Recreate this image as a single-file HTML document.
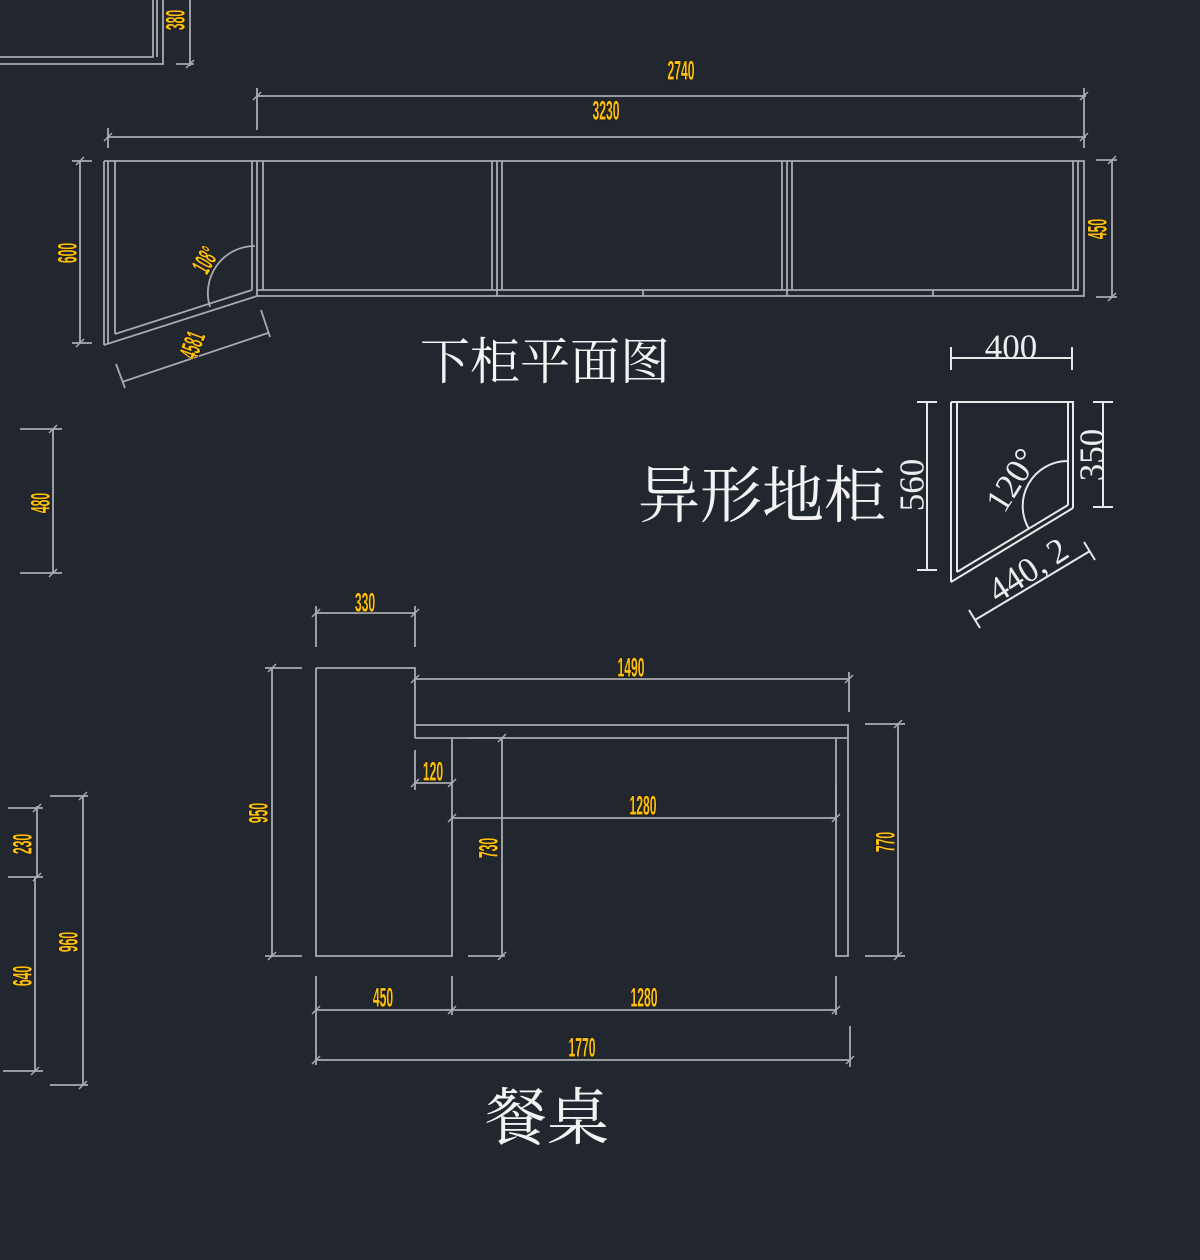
<!DOCTYPE html>
<html>
<head>
<meta charset="utf-8">
<style>
html,body{margin:0;padding:0;background:#21262f;}
svg{display:block;}
.y{font-family:"Liberation Sans",sans-serif;font-weight:bold;font-size:27px;fill:#fcbf12;stroke:#140f00;stroke-width:1.4px;paint-order:stroke;text-anchor:middle;}
.w{font-family:"Liberation Serif",serif;font-size:35px;fill:#ececec;text-anchor:middle;}
.t{font-family:"Liberation Serif","Noto Serif CJK SC",serif;fill:#f3f3f3;text-anchor:middle;}
</style>
</head>
<body>
<svg width="1200" height="1260" viewBox="0 0 1200 1260" xmlns="http://www.w3.org/2000/svg">
<rect width="1200" height="1260" fill="#21262f"/>

<!-- gray CAD lines -->
<g stroke="#a9abae" stroke-width="1.8" fill="none">
  <!-- top-left partial box -->
  <path d="M0 57H153V0 M0 64H163V0 M157 0V57"/>
  <path d="M190 0V66 M176 64H194"/>
  <!-- 2740 / 3230 -->
  <path d="M257 96H1086 M257 88V130 M1084 88V148"/>
  <path d="M108 137H1086 M108 128V148"/>
  <!-- cabinet -->
  <path d="M104 161H1084V296H257 M257 290H1078V161 M1073 161V290"/>
  <path d="M492 161V290 M497 161V296 M502 161V290 M782 161V290 M787 161V296 M792 161V290"/>
  <path d="M252 161V290 M257 161V296 M263 161V290"/>
  <path d="M104 161V345 M108 161V343 M115 161V334 M104 345L257 296 M115 334L252 290 M643 290V296 M933 290V296"/>
  <path d="M255 246A47 47 0 0 0 210 307"/>
  <!-- 600 -->
  <path d="M80 161V343 M72 161H92 M72 343H92"/>
  <!-- 450 -->
  <path d="M1112 160V297 M1096 160H1117 M1096 297H1117"/>
  <!-- slant dim -->
  <path d="M122 382L268 333 M116 364L125 388 M261 310L270 337"/>

  <!-- 餐桌 -->
  <path d="M316 613H415 M316 606V647 M415 606V647"/>
  <path d="M316 668H415V738 M316 668V956H452V738 M415 725H848V956H836V738 M415 738H848"/>
  <path d="M415 679H849 M849 672V712"/>
  <path d="M415 783H452 M415 750V790"/>
  <path d="M452 818H836 M836 785V821"/>
  <path d="M502 738V956 M468 738H505 M468 956H505"/>
  <path d="M272 668V956 M265 668H302 M265 956H302"/>
  <path d="M898 724V956 M865 724H905 M865 956H905"/>
  <path d="M316 1010H836 M316 976V1065 M452 976V1015 M836 976V1015 M316 1060H850 M850 1026V1067"/>

  <!-- left side dims -->
  <path d="M53 429V573 M20 429H62 M20 573H62"/>
  <path d="M37 806V878 M8 808H43 M35 878V1071 M8 877H43 M3 1071H43"/>
  <path d="M83 796V1085 M50 796H88 M50 1085H88"/>

  <!-- ticks -->
  <path stroke-width="1.5" d="
  M253 100L261 92 M1080 100L1088 92 M104 141L112 133 M1080 141L1088 133
  M312 617L320 609 M411 617L419 609 M411 683L419 675 M845 683L853 675
  M411 787L419 779 M448 787L456 779 M448 822L456 814 M832 822L840 814
  M312 1014L320 1006 M448 1014L456 1006 M832 1014L840 1006 M312 1064L320 1056 M846 1064L854 1056
  M186 68L194 60 M76 165L84 157 M76 347L84 339 M1108 164L1116 156 M1108 301L1116 293
  M498 742L506 734 M498 960L506 952 M268 672L276 664 M268 960L276 952 M894 728L902 720 M894 960L902 952
  M49 433L57 425 M49 577L57 569 M33 812L41 804 M33 881L41 873 M31 1075L39 1067 M79 800L87 792 M79 1089L87 1081"/>
</g>

<!-- white 异形地柜 drawing -->
<g stroke="#e8e8e8" stroke-width="2" fill="none">
  <path d="M951 358H1072 M951 347V370 M1072 347V370"/>
  <path d="M951 402H1073V508 M1068 402V505 M951 402V582 M957 402V572 M951 582L1073 508 M957 572L1068 505"/>
  <path d="M1068 461A45 45 0 0 0 1029 529"/>
  <path d="M927 402V570 M917 402H937 M917 570H937"/>
  <path d="M1103 402V507 M1093 402H1113 M1093 507H1113"/>
  <path d="M975 620L1090 551 M969 610L980 628 M1084 542L1095 560"/>
</g>

<!-- yellow labels -->
<g class="y">
  <text transform="translate(175 20) rotate(-90) scale(0.45 1)" dy="0.35em">380</text>
  <text transform="translate(681 70) scale(0.45 1)" dy="0.35em">2740</text>
  <text transform="translate(606 110) scale(0.45 1)" dy="0.35em">3230</text>
  <text transform="translate(67 253) rotate(-90) scale(0.45 1)" dy="0.35em">600</text>
  <text transform="translate(205 260) rotate(-60) scale(0.45 1)" dy="0.35em">108°</text>
  <text transform="translate(192 345) rotate(-70) scale(0.45 1)" dy="0.35em">4581</text>
  <text transform="translate(1097 229) rotate(-90) scale(0.45 1)" dy="0.35em">450</text>
  <text transform="translate(40 503) rotate(-90) scale(0.45 1)" dy="0.35em">480</text>
  <text transform="translate(365 602) scale(0.45 1)" dy="0.35em">330</text>
  <text transform="translate(631 667) scale(0.45 1)" dy="0.35em">1490</text>
  <text transform="translate(433 771) scale(0.45 1)" dy="0.35em">120</text>
  <text transform="translate(643 805) scale(0.45 1)" dy="0.35em">1280</text>
  <text transform="translate(488 848) rotate(-90) scale(0.45 1)" dy="0.35em">730</text>
  <text transform="translate(258 813) rotate(-90) scale(0.45 1)" dy="0.35em">950</text>
  <text transform="translate(885 842) rotate(-90) scale(0.45 1)" dy="0.35em">770</text>
  <text transform="translate(383 997) scale(0.45 1)" dy="0.35em">450</text>
  <text transform="translate(644 997) scale(0.45 1)" dy="0.35em">1280</text>
  <text transform="translate(582 1047) scale(0.45 1)" dy="0.35em">1770</text>
  <text transform="translate(22 844) rotate(-90) scale(0.45 1)" dy="0.35em">230</text>
  <text transform="translate(22 976) rotate(-90) scale(0.45 1)" dy="0.35em">640</text>
  <text transform="translate(68 942) rotate(-90) scale(0.45 1)" dy="0.35em">960</text>
</g>

<!-- white labels -->
<g class="w">
  <text transform="translate(1011 347)" dy="0.33em">400</text>
  <text transform="translate(912 485) rotate(-90)" dy="0.33em">560</text>
  <text transform="translate(1092 455) rotate(-90)" dy="0.33em">350</text>
  <text transform="translate(1012 480) rotate(-58)" dy="0.33em">120°</text>
  <text transform="translate(1028 570) rotate(-33)" dy="0.33em">440, 2</text>
</g>

<!-- titles -->
<text class="t" x="545" y="379" font-size="50">下柜平面图</text>
<text class="t" x="762" y="517" font-size="62">异形地柜</text>
<text class="t" x="547" y="1139" font-size="62">餐桌</text>
</svg>
</body>
</html>
